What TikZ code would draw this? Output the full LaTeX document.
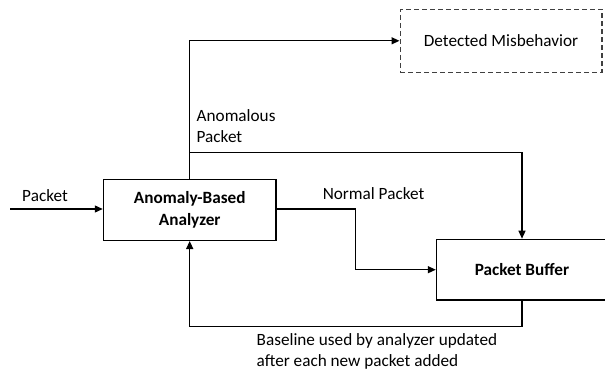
\documentclass[tikz,border=0pt]{standalone}
\usepackage{fontspec}
\setmainfont{Carlito}
\usetikzlibrary{arrows.meta}
\begin{document}
\begin{tikzpicture}[x=1pt,y=-1pt,
  every node/.style={font=\fontsize{17.2}{21.5}\selectfont, inner sep=0pt},
  box/.style={draw, line width=1.4pt, minimum width=172.5pt, minimum height=60.6pt, align=center, font=\fontsize{17.2}{22.3}\selectfont\bfseries},
  dbox/.style={draw=black!75, dashed, dash pattern=on 5pt off 3pt, line width=1.3pt, minimum width=201.7pt, minimum height=63pt},
  arr/.style={line width=1.3pt, -{Triangle[length=8pt,width=7pt]}},
  lbl/.style={align=left}]
\useasboundingbox (0,0) rectangle (605,372);
\node[box] (an) at (189.7,210) {Anomaly-Based\\Analyzer};
\node[box, minimum width=171pt] (pb) at (522,269.7) {Packet Buffer};
\node[dbox] (dm) at (501,40.8) {Detected Misbehavior};
\coordinate (in) at (10.4,209);
\coordinate (br) at (189.7,152.7);
\coordinate (np) at (355.6,209);
\draw[arr] (in) -- (in -| an.west);
\node (lp) at (45,195.7) {Packet};
\draw[arr] (an.north) |- (dm.west);
\draw[arr] (br) -| (pb.north);
\draw[arr] (np -| an.east) -- (np) |- (pb.west);
\draw[arr] (pb.south) -- ++(0,26) -| (an.south);
\node[lbl, anchor=west] (la) at (196.5,126) {Anomalous\\Packet};
\node (ln) at (373.5,193.3) {Normal Packet};
\node[lbl, anchor=north west] (lb) at (256.5,333) {Baseline used by analyzer updated\\after each new packet added};
\end{tikzpicture}
\end{document}
